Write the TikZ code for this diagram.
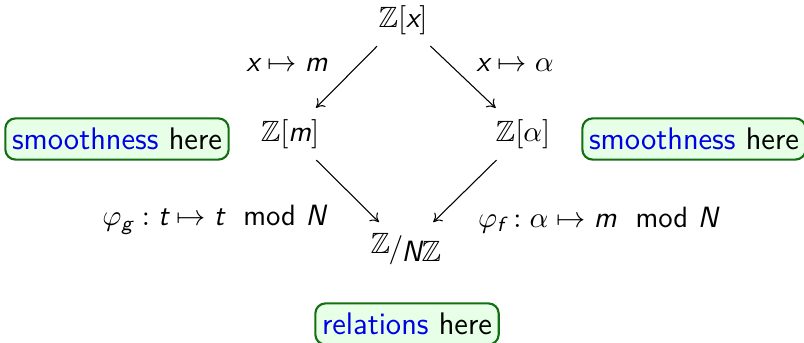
\documentclass[tikz,border=0pt]{standalone}
\usepackage{amsmath,amssymb}
\usetikzlibrary{arrows.meta}
\definecolor{dgreen}{RGB}{20,110,20}
\definecolor{lgreen}{RGB}{230,255,230}
\definecolor{tblue}{RGB}{0,0,230}
\newcommand{\sv}[1]{\text{\sffamily\itshape #1}}
\newcommand{\smod}{\text{\sffamily mod}}
\begin{document}
\begin{tikzpicture}[x=0.375pt,y=-0.375pt,
  every node/.style={font=\fontsize{11}{13}\selectfont},
  obj/.style={inner sep=2pt},
  lbl/.style={inner sep=0pt},
  arr/.style={-{To[length=3pt,width=4.5pt]},line width=0.4pt,shorten <=3pt,shorten >=3pt},
  hbox/.style={draw=dgreen,fill=lgreen,line width=0.8pt,rounded corners=3.8pt,
    inner xsep=2.5pt,inner ysep=3.6pt,font=\fontsize{11.7}{14}\selectfont\sffamily}]
\useasboundingbox (0,0) rectangle (804,343);
\node[obj] (zx) at (403,20) {$\mathbb{Z}[\sv{x}]$};
\node[obj] (zm) at (290,134) {$\mathbb{Z}[\sv{m}]$};
\node[obj] (za) at (523,134) {$\mathbb{Z}[\alpha]$};
\node[obj] (zn) at (406,249) {$\raisebox{1.5pt}{$\mathbb{Z}$}\mkern-1mu\raisebox{0.3pt}{$/$}\mkern-1mu\raisebox{-1.5pt}{$\sv{N}\mathbb{Z}$}$};
\draw[arr] (zx) -- (zm);
\draw[arr] (zx) -- (za);
\draw[arr] (zm) -- (zn);
\draw[arr] (za) -- (zn);
\node[lbl] (l1) at (287,65) {$\sv{x}\mapsto\sv{m}$};
\node[lbl] (l2) at (515,65) {$\sv{x}\mapsto\alpha$};
\node[lbl] (l3) at (214,220) {$\varphi_{\sv{g}} : \sv{t}\mapsto\sv{t}\ \ \smod\ \sv{N}$};
\node[lbl] (l4) at (598,220) {$\varphi_{\sv{f}} : \alpha\mapsto\sv{m}\ \ \smod\ \sv{N}$};
\node[hbox] (b1) at (117,139) {\textcolor{tblue}{smoothness} here};
\node[hbox] (b2) at (694,139) {\textcolor{tblue}{smoothness} here};
\node[hbox] (b3) at (407,324) {\textcolor{tblue}{relations} here};
\end{tikzpicture}
\end{document}
